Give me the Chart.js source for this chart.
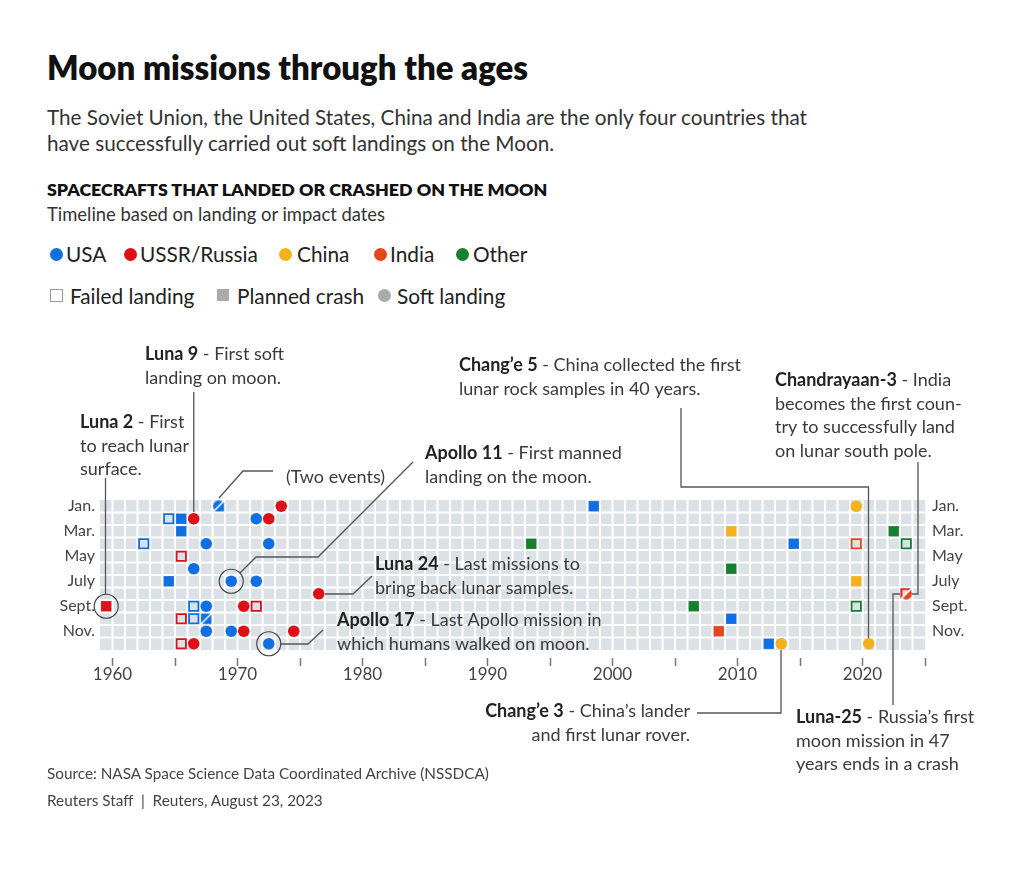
<!DOCTYPE html>
<html>
<head>
<meta charset="utf-8">
<script src="https://cdn.jsdelivr.net/npm/chart.js@4.4.0/dist/chart.umd.min.js"></script>
<style>
  body { margin: 0; background: #fff; font-family: Lato, 'Noto Sans', sans-serif; color: #222; }
  #page { position: relative; width: 1024px; height: 874px; overflow: hidden; }
  .t { position: absolute; white-space: nowrap; }
  #title { left: 47px; top: 48px; font-size: 33px; line-height: 38px; font-weight: 800; color: #111; }
  #sub { left: 47px; top: 104px; font-size: 20.7px; line-height: 26px; color: #333; }
  #head { left: 47px; top: 178px; font-size: 17.8px; line-height: 22px; font-weight: 800; color: #111; }
  #head2 { left: 47px; top: 203px; font-size: 18.4px; line-height: 22px; color: #333; }
  .lg { font-size: 20.8px; line-height: 24px; color: #222; }
  .dot { position: absolute; width: 13px; height: 13px; border-radius: 50%; }
  .sq { position: absolute; width: 12px; height: 12px; }
  .foot { left: 47px; font-size: 15.3px; line-height: 20px; color: #444; }
  #chart { position: absolute; left: 0; top: 320px; }
</style>
</head>
<body>
<div id="page">
  <div class="t" id="title">Moon missions through the ages</div>
  <div class="t" id="sub">The Soviet Union, the United States, China and India are the only four countries that<br>have successfully carried out soft landings on the Moon.</div>
  <div class="t" id="head">SPACECRAFTS THAT LANDED OR CRASHED ON THE MOON</div>
  <div class="t" id="head2">Timeline based on landing or impact dates</div>

  <span class="dot" style="left:50px;top:248px;background:#0f6fe3"></span><span class="t lg" style="left:66px;top:242px">USA</span>
  <span class="dot" style="left:124px;top:248px;background:#dd0f17"></span><span class="t lg" style="left:140px;top:242px">USSR/Russia</span>
  <span class="dot" style="left:279px;top:248px;background:#f4b11c"></span><span class="t lg" style="left:297px;top:242px">China</span>
  <span class="dot" style="left:374px;top:248px;background:#e6461b"></span><span class="t lg" style="left:390px;top:242px">India</span>
  <span class="dot" style="left:456px;top:248px;background:#17802f"></span><span class="t lg" style="left:473px;top:242px">Other</span>

  <span class="sq" style="left:50px;top:289px;border:1.5px solid #999;width:11px;height:11px"></span><span class="t lg" style="left:70px;top:284px">Failed landing</span>
  <span class="sq" style="left:217px;top:289px;background:#aaa"></span><span class="t lg" style="left:237px;top:284px">Planned crash</span>
  <span class="dot" style="left:378px;top:289px;background:#aaa"></span><span class="t lg" style="left:397px;top:284px">Soft landing</span>

  <canvas id="chart" width="1024" height="480"></canvas>

  <div class="t foot" style="top:763px">Source: NASA Space Science Data Coordinated Archive (NSSDCA)</div>
  <div class="t foot" style="top:790px">Reuters Staff &nbsp;|&nbsp; Reuters, August 23, 2023</div>
</div>

<script>
// ---- data (year, month, country, kind) ----
const missionYear  = [1962, 1964, 1964, 1965, 1965, 1966, 1966, 1966, 1967, 1967, 1967, 1969, 1969, 1971, 1971, 1972, 1972, 1998, 2009, 2012, 2014,
                      1959, 1965, 1965, 1965, 1966, 1966, 1970, 1970, 1971, 1972, 1973, 1974, 1976,
                      2009, 2013, 2019, 2019, 2020,
                      2008, 2019,
                      1993, 2006, 2009, 2019, 2022, 2023];
const missionMonth = [4, 2, 7, 2, 3, 6, 9, 10, 4, 9, 11, 7, 11, 2, 7, 4, 12, 1, 10, 12, 4,
                      9, 5, 10, 12, 2, 12, 9, 11, 9, 2, 1, 11, 8,
                      3, 12, 1, 7, 12,
                      11, 4,
                      4, 9, 6, 9, 3, 4];
const missionWho   = ['USA','USA','USA','USA','USA','USA','USA','USA','USA','USA','USA','USA','USA','USA','USA','USA','USA','USA','USA','USA','USA',
                      'USSR','USSR','USSR','USSR','USSR','USSR','USSR','USSR','USSR','USSR','USSR','USSR','USSR',
                      'China','China','China','China','China',
                      'India','India',
                      'Other','Other','Other','Other','Other','Other'];
const missionKind  = ['failed','failed','crash','crash','crash','soft','failed','failed','soft','soft','soft','soft','soft','soft','soft','soft','soft','crash','crash','crash','crash',
                      'crash','failed','failed','failed','soft','soft','soft','soft','failed','soft','soft','soft','soft',
                      'crash','soft','soft','crash','soft',
                      'crash','failed',
                      'crash','crash','crash','failed','crash','failed'];

// cells holding two events (top-left half / bottom-right half)
const splitYear      = [1967, 1968, 2023];
const splitMonth     = [10, 1, 8];
const splitFirstWho  = ['USA', 'USA', 'USSR'];
const splitFirstKind = ['crash', 'soft', 'failed'];
const splitSecondWho = ['USA', 'USA', 'India'];
const splitSecondKind= ['crash', 'crash', 'soft'];

// circled missions
const ringYear  = [1959, 1969, 1972];
const ringMonth = [9, 7, 12];

const yearTicks   = [1960, 1965, 1970, 1975, 1980, 1985, 1990, 1995, 2000, 2005, 2010, 2015, 2020, 2025];
const monthLabels = ['Jan.', 'Mar.', 'May', 'July', 'Sept.', 'Nov.'];
const monthTickPos = [0.5, 2.5, 4.5, 6.5, 8.5, 10.5];

const colorOf = { USA: '#0f6fe3', USSR: '#dd0f17', China: '#f4b11c', India: '#e6461b', Other: '#17802f' };
const FONT = "Lato, 'Noto Sans', sans-serif";
const TOP = 320; // canvas offset on the page

function drawShape(g, cx, cy, who, kind) {
  const col = colorOf[who];
  if (kind === 'soft') {
    g.fillStyle = col; g.beginPath(); g.arc(cx, cy, 5.8, 0, Math.PI * 2); g.fill();
  } else if (kind === 'crash') {
    g.fillStyle = col; g.fillRect(cx - 5.2, cy - 5.2, 10.4, 10.4);
  } else {
    g.strokeStyle = col; g.lineWidth = 1.8; g.strokeRect(cx - 4.7, cy - 4.7, 9.4, 9.4);
  }
}

function splitMark(i) {
  const S = 12, c = document.createElement('canvas');
  c.width = S; c.height = S;
  const g = c.getContext('2d');
  const half = (tri, who, kind) => {
    g.save(); g.beginPath();
    tri.forEach(([px, py], k) => k ? g.lineTo(px, py) : g.moveTo(px, py));
    g.closePath(); g.clip();
    drawShape(g, S / 2, S / 2, who, kind);
    g.restore();
  };
  half([[0, 0], [S, 0], [0, S]], splitFirstWho[i], splitFirstKind[i]);
  half([[S, 0], [S, S], [0, S]], splitSecondWho[i], splitSecondKind[i]);
  g.strokeStyle = '#fff'; g.lineWidth = 1.5;
  g.beginPath(); g.moveTo(0, S); g.lineTo(S, 0); g.stroke();
  return c;
}

// grey cells with white gaps
const cellGrid = {
  id: 'cellGrid',
  beforeDatasetsDraw(chart) {
    const { ctx, chartArea: a, scales } = chart;
    ctx.save();
    ctx.fillStyle = '#dce1e6';
    ctx.fillRect(a.left, a.top, a.right - a.left, a.bottom - a.top);
    ctx.strokeStyle = '#fff'; ctx.lineWidth = 2;
    ctx.beginPath();
    for (let yr = scales.x.min + 1; yr < scales.x.max; yr++) {
      const px = scales.x.getPixelForValue(yr);
      ctx.moveTo(px, a.top); ctx.lineTo(px, a.bottom);
    }
    for (let m = 1; m < 12; m++) {
      const py = scales.yl.getPixelForValue(m);
      ctx.moveTo(a.left, py); ctx.lineTo(a.right, py);
    }
    ctx.stroke();
    ctx.restore();
  }
};

// call-outs
const notes = [
  { x: 145, y: 354, lines: [['Luna 9', ' - First soft'], ['', 'landing on moon.']] },
  { x: 80,  y: 422, lines: [['Luna 2', ' - First'], ['', 'to reach lunar'], ['', 'surface.']] },
  { x: 286, y: 477, lines: [['', '(Two events)']] },
  { x: 425, y: 453, lines: [['Apollo 11', ' - First manned'], ['', 'landing on the moon.']] },
  { x: 375, y: 564, lines: [['Luna 24', ' - Last missions to'], ['', 'bring back lunar samples.']] },
  { x: 337, y: 620, lines: [['Apollo 17', ' - Last Apollo mission in'], ['', 'which humans walked on moon.']] },
  { x: 459, y: 365, lines: [['Chang\u2019e 5', ' - China collected the first'], ['', 'lunar rock samples in 40 years.']] },
  { x: 775, y: 380, lines: [['Chandrayaan-3', ' - India'], ['', 'becomes the first coun-'], ['', 'try to successfully land'], ['', 'on lunar south pole.']] },
  { x: 796, y: 717, lines: [['Luna-25', ' - Russia\u2019s first'], ['', 'moon mission in 47'], ['', 'years ends in a crash']] },
  { x: 690, y: 711, right: true, lines: [['Chang\u2019e 3', ' - China\u2019s lander'], ['', 'and first lunar rover.']] },
];
const leaders = [
  [[193.75, 392], [193.75, 512]],
  [[105.5, 478], [105.5, 594]],
  [[273, 471], [243, 471], [219, 498]],
  [[240, 573], [256, 557], [318, 557], [413, 462]],
  [[325, 594], [353, 594], [372, 576]],
  [[280, 644], [308, 644], [323, 630]],
  [[681, 408], [681, 487], [868.5, 487], [868.5, 638]],
  [[918, 462], [918, 594], [912, 594]],
  [[893, 705], [893, 594], [900, 594]],
  [[697, 713], [781, 713], [781, 650]],
];

const callouts = {
  id: 'callouts',
  afterDraw(chart) {
    const ctx = chart.ctx;
    ctx.save();
    ctx.strokeStyle = '#555'; ctx.lineWidth = 1.3;
    leaders.forEach(pts => {
      ctx.beginPath();
      pts.forEach(([px, py], k) => k ? ctx.lineTo(px, py - TOP) : ctx.moveTo(px, py - TOP));
      ctx.stroke();
    });
    ctx.textBaseline = 'middle';
    const bold = '700 18px ' + FONT, reg = '400 18px ' + FONT;
    notes.forEach(n => {
      n.lines.forEach(([b, r], k) => {
        const y = n.y - TOP + k * 23.7;
        ctx.font = bold; const bw = b ? ctx.measureText(b).width : 0;
        ctx.font = reg; const rw = ctx.measureText(r).width;
        let x = n.right ? n.x - bw - rw : n.x;
        if (b) { ctx.font = bold; ctx.fillStyle = '#222'; ctx.fillText(b, x, y); x += bw; }
        ctx.font = reg; ctx.fillStyle = '#3a3a3a'; ctx.fillText(r, x, y);
      });
    });
    ctx.restore();
  }
};

const missionPoints = missionYear.map((yr, i) => ({ x: yr + 0.5, y: missionMonth[i] - 0.5 }));
const splitPoints = splitYear.map((yr, i) => ({ x: yr + 0.5, y: splitMonth[i] - 0.5 }));
const ringPoints = ringYear.map((yr, i) => ({ x: yr + 0.5, y: ringMonth[i] - 0.5 }));
const splitImages = splitYear.map((_, i) => splitMark(i));

const monthAxis = (pos, pad, w) => ({
  type: 'linear', position: pos, min: 0, max: 12, reverse: true,
  grid: { display: false, drawTicks: false }, border: { display: false },
  afterBuildTicks: s => { s.ticks = monthTickPos.map(v => ({ value: v })); },
  ticks: { callback: (v, i) => monthLabels[i], color: '#444', font: { family: FONT, size: 16 }, padding: pad },
  afterFit: s => { s.width = w; }
});

new Chart(document.getElementById('chart'), {
  type: 'scatter',
  data: {
    datasets: [
      {
        data: missionPoints, yAxisID: 'yl',
        pointStyle: c => missionKind[c.dataIndex] === 'soft' ? 'circle' : 'rect',
        pointRadius: c => ({ soft: 5.8, crash: 7.3, failed: 6.6 })[missionKind[c.dataIndex]],
        pointBackgroundColor: c => missionKind[c.dataIndex] === 'failed' ? 'rgba(0,0,0,0)' : colorOf[missionWho[c.dataIndex]],
        pointBorderColor: c => colorOf[missionWho[c.dataIndex]],
        pointBorderWidth: c => missionKind[c.dataIndex] === 'failed' ? 1.8 : 0,
      },
      {
        data: splitPoints, yAxisID: 'yl',
        pointStyle: splitImages, pointRadius: 6,
      },
      {
        data: ringPoints, yAxisID: 'yl', clip: false,
        pointStyle: 'circle', pointRadius: 12,
        pointBackgroundColor: 'rgba(0,0,0,0)', pointBorderColor: '#444', pointBorderWidth: 1.2,
      },
    ]
  },
  options: {
    responsive: false, animation: false, events: [],
    layout: { padding: { top: 180, bottom: 110, left: 0, right: 0 } },
    plugins: { legend: { display: false }, tooltip: { enabled: false } },
    scales: {
      x: {
        type: 'linear', min: 1959, max: 2025,
        grid: { drawOnChartArea: false, drawTicks: true, tickLength: 16, tickColor: '#777', tickWidth: 1.5, tickBorderDash: [0, 8, 8, 40] },
        border: { display: false },
        afterBuildTicks: s => { s.ticks = yearTicks.map(v => ({ value: v })); },
        ticks: { autoSkip: false, maxRotation: 0, padding: -2, color: '#444', font: { family: FONT, size: 17 },
                 callback: v => v % 10 === 0 ? String(v) : '' },
        afterFit: s => { s.height = 40; }
      },
      yl: monthAxis('left', 5, 100),
      yr: monthAxis('right', 7, 99),
    }
  },
  plugins: [cellGrid, callouts]
});
</script>
</body>
</html>
